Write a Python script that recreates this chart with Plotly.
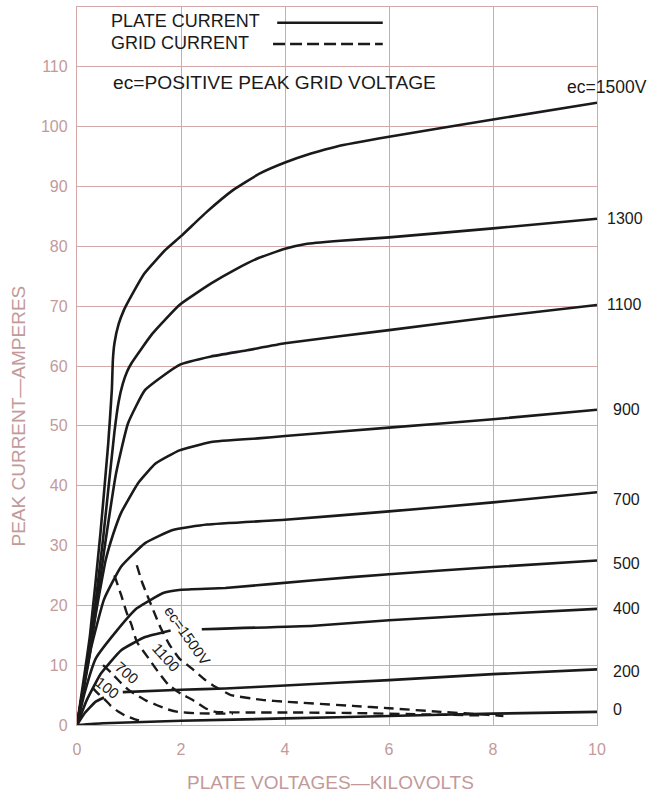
import plotly.graph_objects as go

# ---------------- data ----------------
x_ticks = [0, 2, 4, 6, 8, 10]
y_ticks = [0, 10, 20, 30, 40, 50, 60, 70, 80, 90, 100, 110]

# plate current curves (kV, A)
x_1500 = [0, 0.25, 0.45, 0.6, 0.67, 0.69, 0.72, 0.8, 0.9, 1.0, 1.3, 1.7, 2.0, 2.5, 3.0, 3.5, 4.0, 4.5, 5.0, 6.0, 8.0, 10.0]
y_1500 = [0, 15, 32, 47, 56, 61, 63.8, 67.0, 69.3, 71, 75.5, 79.4, 81.7, 85.8, 89.4, 92.1, 94.0, 95.5, 96.7, 98.3, 101.2, 104]

x_1300 = [0, 0.25, 0.5, 0.72, 0.8, 0.88, 0.96, 1.05, 1.45, 1.97, 2.58, 3.06, 3.48, 4.0, 4.4, 5.0, 6.0, 8.0, 10.0]
y_1300 = [0, 13, 31, 49, 54, 57, 59, 60.5, 65.4, 70.2, 73.8, 76.2, 78.0, 79.6, 80.4, 80.9, 81.5, 83, 84.6]

x_1100 = [0, 0.25, 0.52, 0.75, 0.98, 1.31, 1.97, 2.58, 3.25, 4.0, 6.0, 8.0, 10.0]
y_1100 = [0, 12, 29, 42, 50.4, 56, 60.2, 61.6, 62.6, 63.8, 66, 68.2, 70.2]

x_900 = [0, 0.2, 0.4, 0.55, 0.7, 0.85, 1.18, 1.51, 1.97, 2.58, 3.48, 4.0, 6.0, 8.0, 10.0]
y_900 = [0, 10.5, 20.5, 27.5, 32.0, 35.5, 40.5, 43.7, 45.9, 47.3, 47.9, 48.3, 49.7, 51.1, 52.7]

x_700 = [0, 0.26, 0.52, 0.85, 1.31, 1.84, 2.5, 4.0, 6.0, 8.0, 10.0]
y_700 = [0, 12.5, 21.0, 26.5, 30.4, 32.6, 33.5, 34.3, 35.7, 37.2, 38.9]

x_500 = [0, 0.15, 0.36, 0.75, 1.15, 1.67, 2.0, 2.85, 4.56, 6.0, 8.0, 10.0]
y_500 = [0, 5.5, 11.1, 15.6, 19.5, 22.1, 22.6, 22.9, 24.2, 25.2, 26.4, 27.5]

x_400 = [0, 0.19, 0.46, 0.85, 1.31, 1.8, 2.1, 2.4, 4.56, 6.0, 8.0, 10.0]
y_400 = [0, 4.2, 8.6, 12.5, 14.7, 15.8, None, 16.0, 16.6, 17.5, 18.5, 19.4]

x_200 = [0, 0.15, 0.36, 0.52, 0.7, 0.88, 2.0, 2.85, 4.0, 6.0, 8.0, 10.0]
y_200 = [0, 2.0, 3.9, 4.6, None, 5.5, 5.9, 6.1, 6.6, 7.5, 8.5, 9.3]

x_0 = [0, 0.5, 2, 4, 6, 8, 10]
y_0 = [0, 0.3, 0.7, 1.1, 1.5, 1.9, 2.2]

# grid current curves (kV, A)
g1500_x = [1.15, 1.25, 1.35, 1.48, 1.61, 1.78, 1.97, 2.2, 2.47, 2.66, 2.96, 3.56, 4.0, 5.3, 6.0, 7.0, 7.9, 8.2]
g1500_y = [26.7, 23.9, 21.7, 18.9, 16.2, 13.4, 11.1, 9.5, 7.5, 6.4, 5.0, 4.2, 3.9, 3.2, 2.8, 2.2, 1.7, 1.5]

g1100_x = [0.72, 0.85, 0.95, 1.05, 1.15, 1.38, 1.55, 1.75, 2.0, 2.2, 2.47, 2.66, 3.27, 4.0, 5.3, 6.5, 7.8]
g1100_y = [25.0, 21.7, 18.9, 16.7, 13.9, 11.1, 9.0, 6.8, 5.2, 4.3, 2.8, 2.2, 2.1, 2.1, 2.0, 1.8, 1.6]

g700_x = [0.5, 0.65, 0.85, 1.0, 1.15, 1.35, 1.54, 1.75, 1.94, 2.3, 3.0]
g700_y = [10.0, 8.8, 7.0, 5.8, 5.0, 4.0, 3.3, 2.6, 2.2, 1.95, 1.9]

g100_x = [0.3, 0.4, 0.52, 0.65, 0.8, 0.92, 1.1, 1.3]
g100_y = [6.2, 5.3, 4.4, 3.2, 2.2, 1.6, 1.0, 0.5]

plate_series = [("ec=1500V", x_1500, y_1500), ("1300", x_1300, y_1300), ("1100", x_1100, y_1100),
                ("900", x_900, y_900), ("700", x_700, y_700), ("500", x_500, y_500),
                ("400", x_400, y_400), ("200", x_200, y_200), ("0", x_0, y_0)]
grid_series = [("ec=1500V", g1500_x, g1500_y), ("1100", g1100_x, g1100_y),
               ("700", g700_x, g700_y), ("100", g100_x, g100_y)]

# ---------------- styling ----------------
FONT = "Liberation Sans, Arial, Helvetica, sans-serif"
PINK = "#c29a9a"
GRID = "#d2a8a8"
INK = "#1a1a1a"

fig = go.Figure()
for name, xs, ys in plate_series:
    fig.add_trace(go.Scatter(x=xs, y=ys, mode="lines", name=name,
                             line=dict(color=INK, width=2.6, shape="spline", smoothing=0.4),
                             cliponaxis=False, showlegend=False, hoverinfo="skip"))
for name, xs, ys in grid_series:
    fig.add_trace(go.Scatter(x=xs, y=ys, mode="lines", name=name,
                             line=dict(color=INK, width=2.4, dash="10px,6px", shape="spline", smoothing=0.4),
                             cliponaxis=False, showlegend=False, hoverinfo="skip"))

fig.update_layout(
    width=650, height=802,
    margin=dict(l=77, r=53, t=7, b=77, autoexpand=False),
    paper_bgcolor="white", plot_bgcolor="white",
    font=dict(family=FONT, color=INK),
    xaxis=dict(range=[0, 10], tickvals=x_ticks, ticktext=[str(v) for v in x_ticks],
               showgrid=True, gridcolor=GRID, gridwidth=1.2, zeroline=False,
               showline=True, linecolor=GRID, linewidth=1.3, mirror=True,
               ticks="", ticklabelstandoff=10, automargin=False,
               tickfont=dict(size=16, color=PINK, family=FONT)),
    yaxis=dict(range=[0, 120], tickvals=y_ticks, ticktext=[str(v) for v in y_ticks],
               showgrid=True, gridcolor=GRID, gridwidth=1.2, zeroline=False,
               showline=True, linecolor=GRID, linewidth=1.3, mirror=True,
               ticks="", ticklabelstandoff=5, automargin=False,
               tickfont=dict(size=16, color=PINK, family=FONT)),
)

ann = []
# axis titles
ann.append(dict(text="PLATE VOLTAGES\u2014KILOVOLTS", xref="paper", yref="paper", x=0.487, y=-0.0794,
                xanchor="center", yanchor="middle", showarrow=False,
                font=dict(size=19, color=PINK, family=FONT)))
ann.append(dict(text="PEAK CURRENT\u2014AMPERES", xref="paper", yref="paper", x=-0.113, y=0.43,
                xanchor="center", yanchor="middle", showarrow=False, textangle=-90,
                font=dict(size=19, color=PINK, family=FONT)))
# legend texts
ann.append(dict(text="PLATE CURRENT", xref="paper", yref="paper", x=0.062, y=0.9805,
                xanchor="left", yanchor="middle", showarrow=False, font=dict(size=18, color=INK, family=FONT)))
ann.append(dict(text="GRID CURRENT", xref="paper", yref="paper", x=0.062, y=0.950,
                xanchor="left", yanchor="middle", showarrow=False, font=dict(size=18, color=INK, family=FONT)))
ann.append(dict(text="ec=POSITIVE PEAK GRID VOLTAGE", xref="paper", yref="paper", x=0.066, y=0.8955,
                xanchor="left", yanchor="middle", showarrow=False, font=dict(size=19.2, color=INK, family=FONT)))

# right-hand curve labels, placed relative to each curve's end point
right_shift = {"1300": (8, 0), "1100": (8, 0), "900": (14, 0), "700": (14, -7),
               "500": (14, -3), "400": (14, 0), "200": (14, -2), "0": (14, 2)}
for name, xs, ys in plate_series:
    if name == "ec=1500V":
        ann.append(dict(text=name, x=xs[-1], y=ys[-1], xref="x", yref="y", xanchor="right", yanchor="middle",
                        xshift=52, yshift=16, showarrow=False, font=dict(size=17.5, color=INK, family=FONT)))
        continue
    dx, dy = right_shift[name]
    ann.append(dict(text=name, x=xs[-1], y=ys[-1], xref="x", yref="y", xanchor="left", yanchor="middle",
                    xshift=dx, yshift=dy, showarrow=False, font=dict(size=16, color=INK, family=FONT)))

# rotated grid-current labels
inner = [("ec=1500V", 2.12, 14.9, 55), ("1100", 1.72, 11.3, 48), ("700", 0.95, 8.7, 40), ("100", 0.58, 6.3, 38)]
for txt, xx, yy, ang in inner:
    ann.append(dict(text=txt, x=xx, y=yy, xref="x", yref="y", xanchor="center", yanchor="middle",
                    textangle=ang, showarrow=False,
                    font=dict(size=15, color=INK, family=FONT)))
fig.update_layout(annotations=ann)

# legend sample lines
fig.add_shape(type="line", xref="paper", yref="paper", x0=0.385, x1=0.588, y0=0.978, y1=0.978,
              line=dict(color=INK, width=2.6))
fig.add_shape(type="line", xref="paper", yref="paper", x0=0.377, x1=0.588, y0=0.9485, y1=0.9485,
              line=dict(color=INK, width=2.6, dash="12px,5px"))

fig.write_html("out.html", config={"displayModeBar": False},
               post_script="document.body.style.margin='0px';document.body.style.overflow='hidden';")
